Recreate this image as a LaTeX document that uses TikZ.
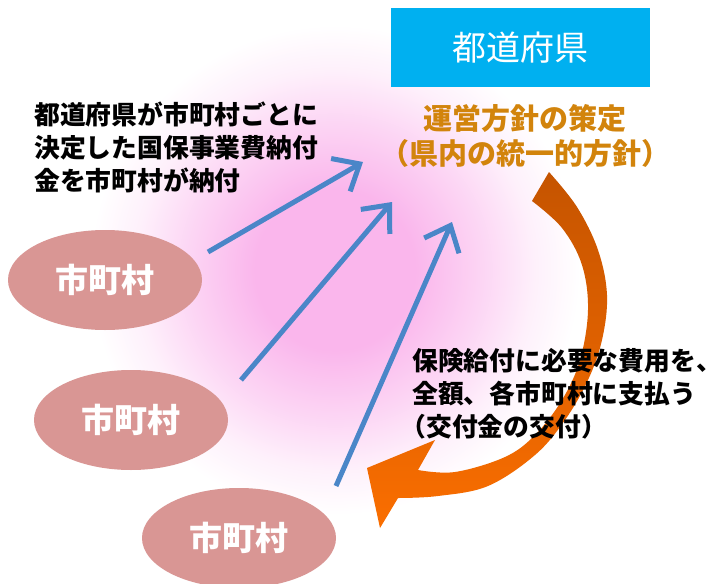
\documentclass[tikz,border=0pt]{standalone}
\usepackage{fontspec}
\setmainfont{Noto Sans CJK JP}
\usetikzlibrary{arrows.meta,shapes.geometric}
\definecolor{glowpink}{RGB}{250,182,236}
\definecolor{boxblue}{RGB}{0,176,240}
\definecolor{ellpink}{RGB}{217,150,148}
\definecolor{goldtext}{RGB}{210,132,12}
\definecolor{arrblue}{RGB}{74,134,200}
\definecolor{orgdark}{RGB}{197,84,0}
\definecolor{orglight}{RGB}{250,110,0}
\pgfdeclareradialshading{glow}{\pgfpoint{0bp}{0bp}}{color(0bp)=(glowpink); color(8bp)=(glowpink); color(15bp)=(glowpink!55!white); color(20bp)=(glowpink!20!white); color(24.5bp)=(white); color(50bp)=(white)}
\begin{document}
\begin{tikzpicture}[x=1pt,y=-1pt,
  city/.style={ellipse, fill=ellpink, minimum width=194pt, minimum height=100pt, inner sep=0pt, text=white, font=\fontsize{33}{36}\selectfont\bfseries},
  uparrow/.style={draw=arrblue, line width=5pt, -{Straight Barb[length=22pt,width=38pt]}},
  blacktext/.style={anchor=west, align=left, inner sep=0pt, text=black, font=\fontsize{25.8}{33}\selectfont\bfseries},
  prefbox/.style={fill=boxblue, minimum width=259pt, minimum height=79pt, inner sep=0pt, text=white, font=\fontsize{34}{40}\selectfont},
  policytext/.style={align=center, inner sep=0pt, text=goldtext, font=\fontsize{29}{35}\selectfont\bfseries}
]
\useasboundingbox (0,0) rectangle (710,584);
\fill[white] (0,0) rectangle (710,584);
% glow
\shade[shading=glow] (335,270) circle [radius=250];

% prefecture box and policy text
\node[prefbox] (pref) at (520.5,47.5) {都道府県};
\node[policytext] (policy) at (525,135.5) {運営方針の策定\\（県内の統一的方針）};

% municipalities
\node[city] (c1) at (105,280) {市町村};
\node[city] (c2) at (131,420) {市町村};
\node[city] (c3) at (239,538) {市町村};

% blue arrows
\coordinate (t1) at (208,252);
\coordinate (h1) at (363,162);
\coordinate (t2) at (241,380);
\coordinate (h2) at (392,202);
\coordinate (t3) at (336,486);
\coordinate (h3) at (452,222);
\draw[uparrow] (t1) -- (h1);
\draw[uparrow] (t2) -- (h2);
\draw[uparrow] (t3) -- (h3);

% orange curved arrow
\shade[top color=orgdark, bottom color=orglight]
  plot[smooth, tension=0.6] coordinates {(549,172) (577,207) (598,250) (607,295) (602,340) (588,380) (565,420) (535,455) (488,486) (438,496) (398,498)}
  -- (380,528) -- (367,468) -- (435,440)
  -- plot[smooth, tension=0.6] coordinates {(418,470) (455,472) (505,457) (535,435) (562,400) (580,360) (588,310) (582,265) (562,228) (532,201)}
  -- cycle;

% texts
\node[blacktext] (paytext) at (34,147) {都道府県が市町村ごとに\\決定した国保事業費納付\\金を市町村が納付};
\node[blacktext] (granttext) at (412,393.5) {保険給付に必要な費用を\makebox[0.5em][l]{、}\\全額、各市町村に支払う\\\hspace*{-0.45em}（交付金の交付）};
\end{tikzpicture}
\end{document}
